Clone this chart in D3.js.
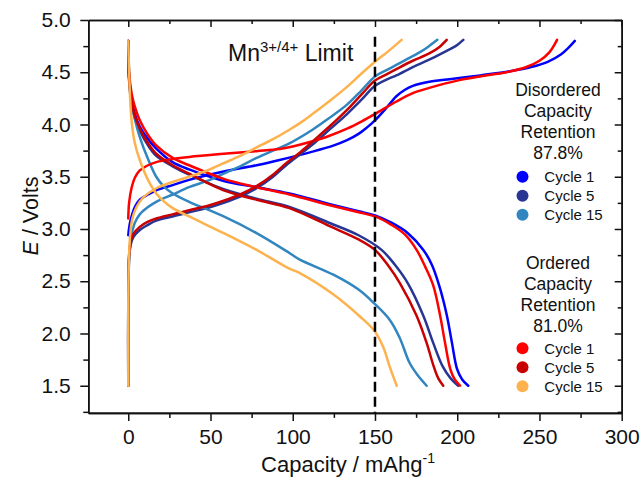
<!DOCTYPE html>
<html>
<head>
<meta charset="utf-8">
<script src="https://cdn.jsdelivr.net/npm/d3@7"></script>
<style>
  html, body { margin: 0; padding: 0; background: #fff; }
  svg { display: block; font-family: "Liberation Sans", Arial, sans-serif; }
</style>
</head>
<body>
<svg id="chart" width="642" height="477"></svg>
<script>
// ---------------- DATA (capacity mAh/g, voltage V) ----------------
const disCharge1 = [[0,2.94],[0.7,3.03],[2,3.12],[4,3.21],[7,3.28],[12,3.33],[17,3.37],[27,3.42],[37,3.47],[58,3.55],[78,3.61],[92,3.66],[112,3.74],[125,3.80],[133,3.85],[140,3.91],[145,3.97],[150,4.04],[157,4.16],[163,4.27],[168,4.33],[173,4.37],[183,4.41],[194,4.43],[214,4.47],[232,4.51],[245,4.55],[255,4.60],[263,4.67],[268,4.74],[271.5,4.80]];
const disDischarge1 = [[0,4.8],[0.5,4.45],[2,4.25],[4,4.1],[7,3.98],[12,3.86],[17,3.77],[27,3.64],[37,3.57],[58,3.46],[78,3.40],[98,3.34],[122,3.24],[140,3.17],[150,3.13],[160,3.06],[170,2.96],[179.4,2.80],[184.5,2.66],[189,2.46],[193.6,2.18],[196.8,1.91],[199.9,1.66],[203,1.56],[206.7,1.5]];
const disCharge5 = [[0,1.5],[0,2.3],[0.5,2.72],[1.5,2.85],[3,2.92],[7,2.99],[12,3.04],[17,3.08],[27,3.12],[37,3.16],[48,3.20],[58,3.25],[68,3.31],[78,3.39],[88,3.50],[96,3.61],[105,3.72],[113,3.82],[123,3.96],[133,4.10],[142,4.24],[150,4.37],[157,4.43],[163,4.47],[173,4.55],[183,4.62],[193,4.70],[199,4.75],[203.7,4.81]];
const disDischarge5 = [[0,4.8],[0.5,4.42],[2,4.2],[4,4.06],[7,3.94],[12,3.80],[17,3.70],[27,3.60],[37,3.52],[58,3.38],[78,3.29],[98,3.21],[122,3.06],[140,2.94],[154,2.80],[162,2.66],[170,2.48],[179.4,2.17],[185.4,1.91],[191,1.69],[196,1.57],[200.6,1.5]];
const disCharge15 = [[0,1.5],[0,2.3],[0.5,2.7],[1.3,2.88],[2.5,2.98],[4,3.06],[7,3.14],[12,3.21],[17,3.26],[27,3.33],[37,3.40],[48,3.46],[58,3.53],[68,3.60],[78,3.68],[88,3.75],[98,3.82],[112,3.95],[122,4.06],[133,4.19],[142,4.33],[150,4.46],[157,4.52],[163,4.57],[170,4.63],[176,4.68],[182,4.74],[187.9,4.81]];
const disDischarge15 = [[0,4.8],[0.5,4.5],[1,4.35],[2.1,4.20],[4,4.05],[7,3.88],[12,3.67],[17,3.50],[22,3.40],[27,3.34],[37,3.26],[58,3.12],[78,2.96],[98,2.77],[104,2.71],[125,2.56],[140,2.42],[149.4,2.29],[159,2.13],[165,1.96],[171,1.72],[176,1.6],[181.4,1.5]];

const ordCharge1 = [[0,3.10],[0.5,3.25],[2.1,3.40],[4,3.49],[7,3.56],[12,3.61],[17,3.64],[27,3.67],[37,3.69],[58,3.72],[78,3.745],[92,3.765],[100,3.79],[112,3.84],[122,3.89],[133,3.96],[142,4.03],[150,4.10],[163,4.22],[173,4.30],[183,4.35],[200,4.42],[214,4.46],[230,4.50],[242,4.55],[250,4.61],[256,4.69],[260.7,4.81]];
const ordDischarge1 = [[0,4.8],[0.5,4.5],[2,4.3],[4,4.17],[7,4.04],[12,3.9],[17,3.80],[27,3.68],[37,3.61],[58,3.48],[78,3.40],[98,3.33],[122,3.23],[140,3.16],[150,3.12],[160,3.04],[168,2.95],[175.3,2.80],[180.5,2.64],[185.4,2.46],[189.5,2.18],[192.6,1.91],[195.8,1.66],[198.5,1.56],[201.7,1.5]];
const ordCharge5 = [[0,1.5],[0,2.3],[0.5,2.75],[1.5,2.88],[3,2.95],[7,3.02],[12,3.07],[17,3.10],[27,3.14],[37,3.18],[48,3.22],[58,3.27],[68,3.33],[78,3.41],[88,3.52],[96,3.63],[105,3.74],[113,3.85],[123,3.99],[133,4.14],[142,4.29],[150,4.42],[157,4.48],[163,4.53],[173,4.61],[183,4.68],[189,4.74],[193.6,4.81]];
const ordDischarge5 = [[0,4.8],[0.5,4.45],[2,4.22],[4,4.08],[7,3.96],[12,3.82],[17,3.72],[27,3.61],[37,3.53],[58,3.37],[78,3.28],[98,3.20],[122,3.03],[140,2.90],[150,2.80],[158,2.65],[165.2,2.48],[175.3,2.17],[181.4,1.91],[185.6,1.69],[188.5,1.57],[191.5,1.5]];
const ordCharge15 = [[0,1.5],[0,2.3],[0.4,2.7],[1.2,2.95],[2.5,3.1],[5,3.21],[9,3.30],[17,3.39],[27,3.45],[37,3.50],[48,3.56],[58,3.63],[68,3.70],[78,3.78],[88,3.86],[98,3.95],[105,4.02],[112,4.10],[122,4.22],[133,4.36],[142,4.49],[150,4.60],[158,4.70],[166.2,4.81]];
const ordDischarge15 = [[0,4.8],[1,4.3],[2,4.04],[4,3.82],[7,3.66],[12,3.47],[17,3.34],[22,3.26],[27,3.20],[37,3.12],[58,2.96],[78,2.80],[98,2.62],[104,2.58],[125,2.37],[141,2.16],[149.4,2.03],[155,1.87],[159,1.68],[163.2,1.5]];

const cycleLabels = ["Cycle 1", "Cycle 5", "Cycle 15"];
const disColors = ["#0000ff", "#283593", "#3186c0"];
const ordColors = ["#ff0000", "#c80000", "#fdb24e"];
const disTitle = ["Disordered", "Capacity", "Retention", "87.8%"];
const ordTitle = ["Ordered", "Capacity", "Retention", "81.0%"];
const xMajor = [0, 50, 100, 150, 200, 250, 300];
const xMinor = [25, 75, 125, 175, 225, 275];
const yMajor = [1.5, 2.0, 2.5, 3.0, 3.5, 4.0, 4.5, 5.0];
const yMinor = [1.25, 1.75, 2.25, 2.75, 3.25, 3.75, 4.25, 4.75];
const mnLimit = 150;

// ---------------- CHART ----------------
const svg = d3.select("#chart");
const L = 88.3, R = 621.7, T = 20, B = 412.9;
const x = d3.scaleLinear([-24.3, 300], [L, R]);
const y = d3.scaleLinear([1.24, 5.0], [B, T]);
const FONT = "'Liberation Sans', Arial, sans-serif";

const curves = [
  [disCharge1, disColors[0]], [disDischarge1, disColors[0]],
  [disCharge5, disColors[1]], [disDischarge5, disColors[1]],
  [disCharge15, disColors[2]], [disDischarge15, disColors[2]],
  [ordCharge1, ordColors[0]], [ordDischarge1, ordColors[0]],
  [ordCharge5, ordColors[1]], [ordDischarge5, ordColors[1]],
  [ordCharge15, ordColors[2]], [ordDischarge15, ordColors[2]]
];

const line = d3.line().x(d => x(d[0])).y(d => y(d[1])).curve(d3.curveCatmullRom.alpha(0.5));

svg.append("g").selectAll("path").data(curves).join("path")
  .attr("d", d => line(d[0]))
  .attr("fill", "none")
  .attr("stroke", d => d[1])
  .attr("stroke-width", 2.5)
  .attr("stroke-linejoin", "round")
  .attr("stroke-linecap", "round");

// dashed Mn limit line
svg.append("line")
  .attr("x1", x(mnLimit)).attr("x2", x(mnLimit))
  .attr("y1", y(4.84)).attr("y2", y(1.24))
  .attr("stroke", "#000").attr("stroke-width", 2.5)
  .attr("stroke-dasharray", "10,5");

// axes
function styleAxis(g) {
  g.attr("font-family", FONT).attr("font-size", 21);
  g.selectAll("path.domain").attr("stroke", "#111").attr("stroke-width", 1.6);
  g.selectAll(".tick line").attr("stroke", "#111").attr("stroke-width", 1.5);
  g.selectAll(".tick text").attr("fill", "#111");
}
svg.append("g").attr("transform", `translate(0,${B})`)
  .call(d3.axisBottom(x).tickValues(xMajor).tickFormat(d3.format("d")).tickSize(8).tickSizeOuter(0).tickPadding(8))
  .call(styleAxis);
svg.append("g").attr("transform", `translate(0,${B})`)
  .call(d3.axisBottom(x).tickValues(xMinor).tickFormat("").tickSize(5).tickSizeOuter(0))
  .call(styleAxis);
svg.append("g").attr("transform", `translate(${L},0)`)
  .call(d3.axisLeft(y).tickValues(yMajor).tickFormat(d3.format(".1f")).tickSize(8).tickSizeOuter(0).tickPadding(9.5))
  .call(styleAxis);
svg.append("g").attr("transform", `translate(${L},0)`)
  .call(d3.axisLeft(y).tickValues(yMinor).tickFormat("").tickSize(5).tickSizeOuter(0))
  .call(styleAxis);
// mirrored inner ticks
svg.append("g").attr("transform", `translate(0,${T})`)
  .call(d3.axisTop(x).tickValues(xMajor).tickFormat("").tickSize(-7).tickSizeOuter(0))
  .call(styleAxis);
svg.append("g").attr("transform", `translate(0,${T})`)
  .call(d3.axisTop(x).tickValues(xMinor).tickFormat("").tickSize(-4).tickSizeOuter(0))
  .call(styleAxis);
svg.append("g").attr("transform", `translate(${R},0)`)
  .call(d3.axisRight(y).tickValues(yMajor).tickFormat("").tickSize(-7).tickSizeOuter(0))
  .call(styleAxis);
svg.append("g").attr("transform", `translate(${R},0)`)
  .call(d3.axisRight(y).tickValues(yMinor).tickFormat("").tickSize(-4).tickSizeOuter(0))
  .call(styleAxis);

// axis titles
const xt = svg.append("text").attr("x", 348).attr("y", 471.5)
  .attr("text-anchor", "middle").attr("font-family", FONT).attr("font-size", 22).attr("fill", "#111");
xt.append("tspan").text("Capacity / mAhg");
xt.append("tspan").attr("font-size", 14).attr("dy", -9).text("-1");

const yt = svg.append("text").attr("transform", "translate(38,216) rotate(-90)")
  .attr("text-anchor", "middle").attr("font-family", FONT).attr("font-size", 21.5).attr("fill", "#111");
yt.append("tspan").attr("font-style", "italic").text("E");
yt.append("tspan").text(" / Volts");

// Mn annotation
const mt = svg.append("text").attr("x", 228).attr("y", 61)
  .attr("font-family", FONT).attr("font-size", 23).attr("fill", "#111");
mt.append("tspan").text("Mn");
mt.append("tspan").attr("font-size", 15).attr("dy", -9.5).text("3+/4+");
mt.append("tspan").attr("dy", 9.5).text(" Limit");

// legends
function legend(titles, colors, y0, dotY0) {
  const g = svg.append("g").attr("font-family", FONT).attr("fill", "#111");
  titles.forEach((t, i) => {
    g.append("text").attr("x", 558).attr("y", y0 + i * 21.2)
      .attr("text-anchor", "middle").attr("font-size", 17.5).text(t);
  });
  cycleLabels.forEach((c, i) => {
    g.append("circle").attr("cx", 522.5).attr("cy", dotY0 + i * 19).attr("r", 6).attr("fill", colors[i]);
    g.append("text").attr("x", 544.3).attr("y", dotY0 + i * 19 + 5.2).attr("font-size", 15).text(c);
  });
}
legend(disTitle, disColors, 95.7, 176.7);
legend(ordTitle, ordColors, 268.5, 348.3);
</script>
</body>
</html>
